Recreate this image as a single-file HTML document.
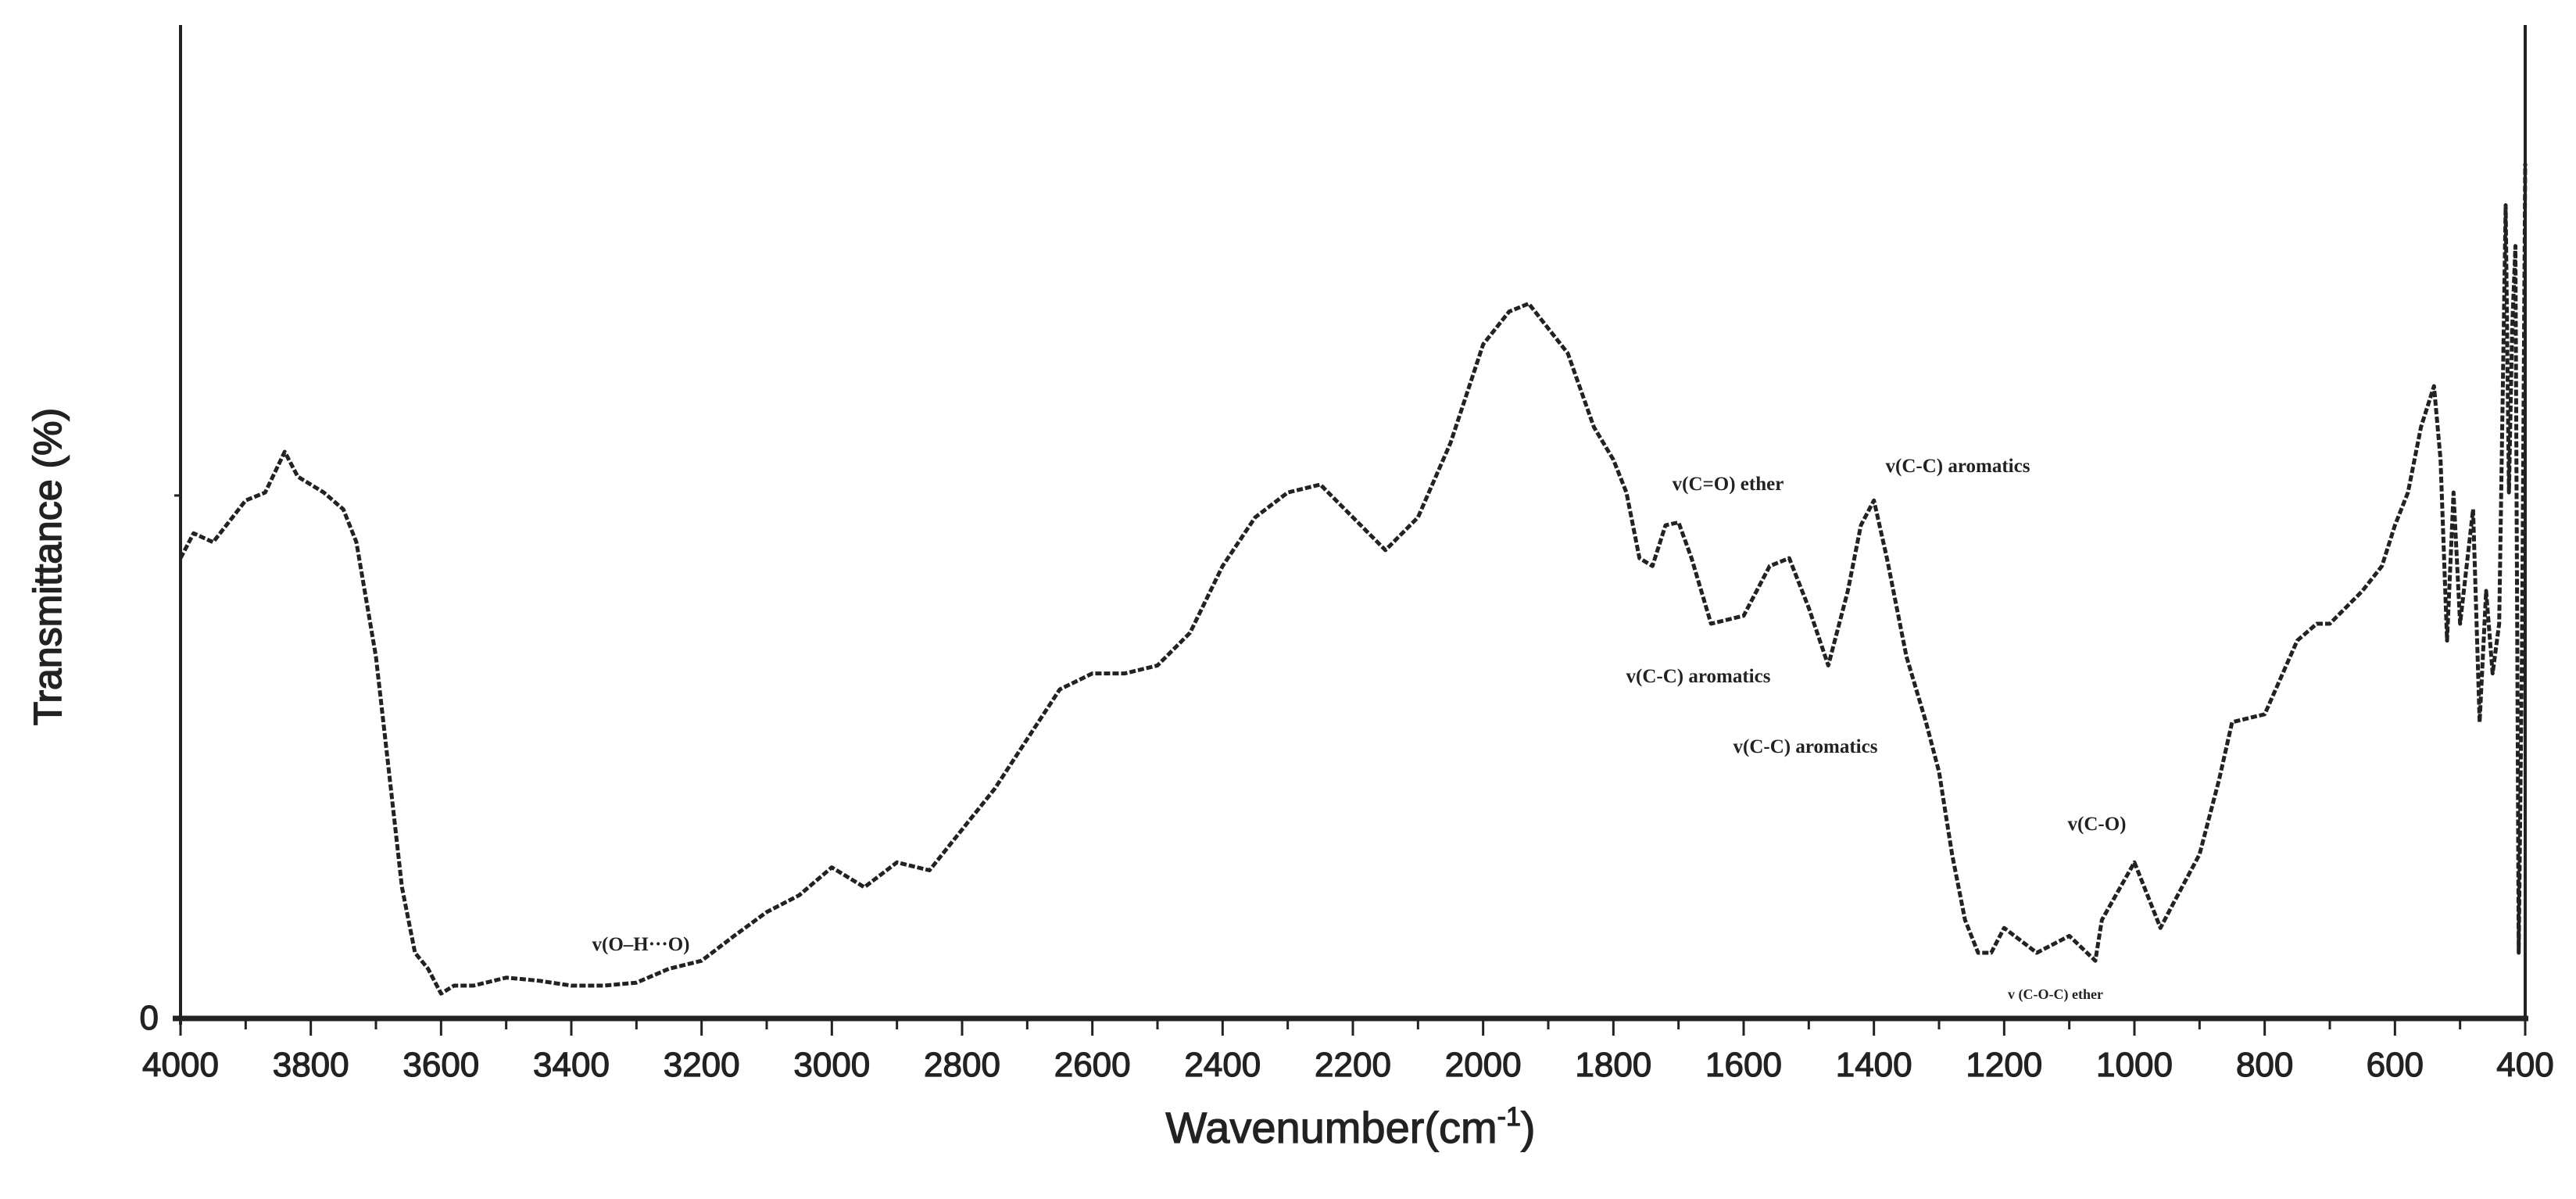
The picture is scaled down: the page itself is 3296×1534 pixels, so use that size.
<!DOCTYPE html>
<html><head><meta charset="utf-8"><style>
html,body{margin:0;padding:0;background:#fff;}
svg{display:block;}
</style></head><body>
<svg id="chart" width="3296" height="1534" viewBox="0 0 3296 1534" xmlns="http://www.w3.org/2000/svg">
<g id="axes"></g>
<g id="plot"></g>
<text x="0" y="0" transform="translate(78,725) rotate(-90)" text-anchor="middle" font-family="Liberation Sans, sans-serif" font-size="50" fill="#222" stroke="#222" stroke-width="1.5">Transmittance (%)</text>
<text x="1728" y="1462" text-anchor="middle" font-family="Liberation Sans, sans-serif" font-size="56" fill="#222" stroke="#222" stroke-width="1.2">Wavenumber(cm<tspan font-size="34" dy="-22">-1</tspan><tspan dy="22">)</tspan></text>
<g font-family="Liberation Serif, serif" font-weight="bold" fill="#222" font-size="25">
<text x="820" y="1216" text-anchor="middle">v(O–H···O)</text>
<text x="2211" y="627" text-anchor="middle">v(C=O) ether</text>
<text x="2505" y="604" text-anchor="middle">v(C-C) aromatics</text>
<text x="2173" y="873" text-anchor="middle">v(C-C) aromatics</text>
<text x="2310" y="963" text-anchor="middle">v(C-C) aromatics</text>
<text x="2683" y="1062" text-anchor="middle">v(C-O)</text>
<text x="2630" y="1278" text-anchor="middle" font-size="18">v (C-O-C) ether</text>
</g>
</svg>
<script>
const wavenumbers=[4000,3980,3950,3900,3870,3840,3820,3780,3750,3730,3700,3680,3660,3640,3620,3600,3580,3550,3500,3450,3400,3350,3300,3250,3200,3150,3100,3050,3000,2950,2900,2850,2800,2750,2700,2650,2600,2550,2500,2450,2400,2350,2300,2250,2200,2150,2100,2050,2000,1960,1930,1900,1870,1830,1800,1780,1760,1740,1720,1700,1680,1650,1600,1560,1530,1500,1470,1440,1420,1400,1380,1350,1320,1300,1280,1260,1240,1220,1200,1150,1100,1060,1050,1000,980,960,940,900,870,850,800,750,720,700,650,620,600,580,560,540,530,520,510,500,480,470,460,450,440,430,425,420,415,410,405,400];
const transmittance=[46.3,48.8,47.9,52.1,52.9,57.0,54.5,52.9,51.2,47.9,36.4,24.8,13.2,6.6,5.0,2.5,3.3,3.3,4.1,3.8,3.3,3.3,3.6,5.0,5.8,8.3,10.7,12.4,15.2,13.2,15.7,14.9,19.0,23.1,28.1,33.1,34.7,34.7,35.5,38.8,45.5,50.4,52.9,53.7,50.4,47.1,50.4,57.9,67.8,71.1,71.9,69.4,66.9,59.5,56.2,52.9,46.3,45.5,49.6,49.9,46.3,39.7,40.5,45.5,46.3,41.3,35.5,43.0,49.6,52.1,46.3,36.4,29.8,24.8,16.5,9.9,6.6,6.6,9.1,6.6,8.3,5.8,9.9,15.7,12.4,9.1,11.6,16.5,24.0,29.8,30.6,38.0,39.7,39.7,43.0,45.5,49.6,52.9,59.5,63.6,56.2,38.0,52.9,39.7,51.2,29.8,43.0,34.7,39.7,81.8,52.9,69.4,77.7,6.6,36.4,86.0];
const xTicks=[4000,3800,3600,3400,3200,3000,2800,2600,2400,2200,2000,1800,1600,1400,1200,1000,800,600,400];
const NS="http://www.w3.org/2000/svg";
const X0=231,X1=3231,Y0=1303,YTOP=32;
function xs(w){return X0+(4000-w)/3600*(X1-X0);}
function ys(v){return Y0-v*12.72;}
const axes=document.getElementById('axes');
function mk(tag,attrs,parent){const e=document.createElementNS(NS,tag);for(const k in attrs)e.setAttribute(k,attrs[k]);parent.appendChild(e);return e;}
let l=mk('line',{x1:X0,y1:YTOP,x2:X0,y2:Y0+8,stroke:'#222','stroke-width':4},axes);


l=mk('line',{x1:X1,y1:YTOP,x2:X1,y2:Y0,stroke:'#222','stroke-width':4},axes);


l=mk('line',{x1:X0-10,y1:Y0,x2:X1+4,y2:Y0,stroke:'#222','stroke-width':7},axes);


l=mk('line',{x1:X0-8,y1:ys(52.6),x2:X0,y2:ys(52.6),stroke:'#222','stroke-width':3},axes);


let t=mk('text',{x:X0-28,y:Y0+14,'text-anchor':'end','font-family':'Liberation Sans, sans-serif','font-size':44,fill:'#222',stroke:'#222','stroke-width':1.2},axes);
t.textContent='0';


for(let i=0;i<xTicks.length;i++){
  const x=xs(xTicks[i]);
  const tk=mk('line',{x1:x,y1:Y0,x2:x,y2:Y0+22,stroke:'#222','stroke-width':3},axes);
  
  
  const mx=xs(xTicks[i]-100);
  if(i<xTicks.length-1){const m=mk('line',{x1:mx,y1:Y0,x2:mx,y2:Y0+14,stroke:'#222','stroke-width':3},axes);
  
  }
  const lb=mk('text',{x:x,y:Y0+74,'text-anchor':'middle','font-family':'Liberation Sans, sans-serif','font-size':44,fill:'#222',stroke:'#222','stroke-width':1.2},axes);
  lb.textContent=xTicks[i];
  
  
}
const plot=document.getElementById('plot');
let d='';
for(let i=0;i<wavenumbers.length;i++){d+=(i?'L':'M')+xs(wavenumbers[i]).toFixed(1)+' '+ys(transmittance[i]).toFixed(1);}
const p=mk('path',{d:d,fill:'none',stroke:'#222','stroke-width':5,'stroke-dasharray':'8 3','stroke-linejoin':'round'},plot);


</script>
</body></html>
